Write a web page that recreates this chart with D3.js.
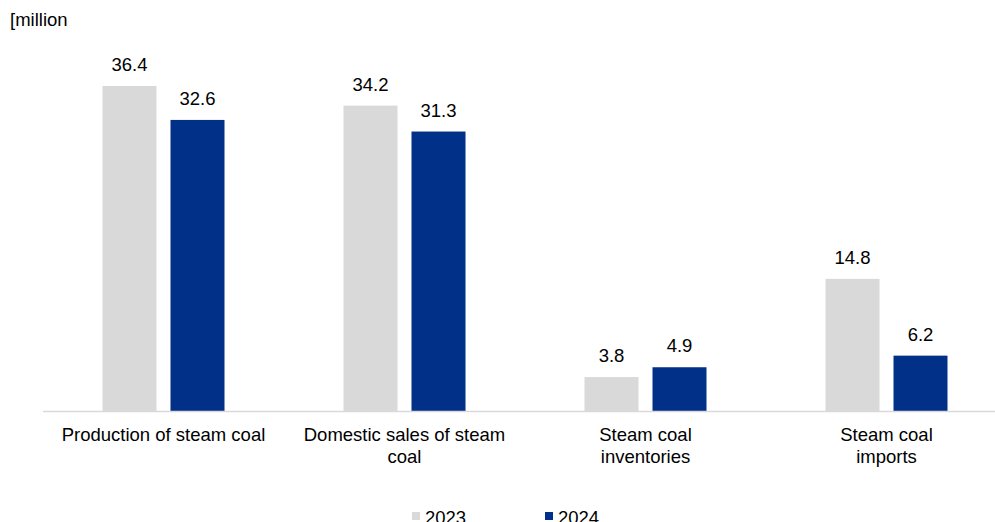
<!DOCTYPE html>
<html>
<head>
<meta charset="utf-8">
<script src="https://cdn.jsdelivr.net/npm/d3@7/dist/d3.min.js"></script>
<style>
  html, body { margin: 0; padding: 0; background: #fff; overflow: hidden; }
  svg { display: block; font-family: "Liberation Sans", Arial, sans-serif; }
</style>
</head>
<body>
<svg id="chart" width="995" height="522"></svg>
<script>
// Steam coal balance, million tonnes
const categories = [
  ["Production of steam coal"],
  ["Domestic sales of steam", "coal"],
  ["Steam coal", "inventories"],
  ["Steam coal", "imports"]
];
const seriesNames = ["2023", "2024"];
const values2023 = [36.4, 34.2, 3.8, 14.8];
const values2024 = [32.6, 31.3, 4.9, 6.2];
const unitLabel = "[million";

const colors = ["#d9d9d9", "#003087"];
const fontSize = 18.5;
const svg = d3.select("#chart");

const baseY = 411;
const x0 = d3.scaleBand()
  .domain(d3.range(categories.length))
  .range([43, 1007]);

// two bars per group, 54px wide with a 14px gap
const barW = 54, barGap = 14;
const groupW = barW * 2 + barGap;
const x1 = d3.scaleBand()
  .domain(seriesNames)
  .range([0, groupW])
  .paddingInner(barGap / (barW + barGap))
  .paddingOuter(0);

const y = d3.scaleLinear().domain([0, 36.4]).range([baseY, 86]);

const series = [values2023, values2024];

// bars with value labels
series.forEach((vals, si) => {
  const g = svg.append("g");
  vals.forEach((v, ci) => {
    const bx = x0(ci) + x0.bandwidth() / 2 - groupW / 2 + x1(seriesNames[si]);
    g.append("rect")
      .attr("x", bx)
      .attr("y", y(v))
      .attr("width", x1.bandwidth())
      .attr("height", baseY - y(v))
      .attr("fill", colors[si]);
    g.append("text")
      .attr("x", bx + x1.bandwidth() / 2)
      .attr("y", y(v) - 15)
      .attr("text-anchor", "middle")
      .attr("font-size", fontSize)
      .attr("fill", "#000")
      .text(d3.format(".1f")(v));
  });
});

// baseline
svg.append("line")
  .attr("x1", 43).attr("x2", 995)
  .attr("y1", baseY + 0.5).attr("y2", baseY + 0.5)
  .attr("stroke", "#d9d9d9")
  .attr("stroke-width", 1.5);

// category labels
categories.forEach((lines, ci) => {
  const cx = x0(ci) + x0.bandwidth() / 2;
  const t = svg.append("text")
    .attr("x", cx)
    .attr("y", 441)
    .attr("text-anchor", "middle")
    .attr("font-size", fontSize)
    .attr("fill", "#000");
  lines.forEach((ln, li) => {
    t.append("tspan")
      .attr("x", cx)
      .attr("dy", li === 0 ? 0 : 22)
      .text(ln);
  });
});

// unit label
svg.append("text")
  .attr("x", 10).attr("y", 26)
  .attr("font-size", fontSize)
  .attr("fill", "#000")
  .text(unitLabel);

// legend along the bottom edge
const legendX = [412, 545];
seriesNames.forEach((name, i) => {
  svg.append("rect")
    .attr("x", legendX[i]).attr("y", 512)
    .attr("width", 8).attr("height", 8)
    .attr("fill", colors[i]);
  svg.append("text")
    .attr("x", legendX[i] + 13).attr("y", 524)
    .attr("font-size", fontSize)
    .attr("fill", "#000")
    .text(name);
});
</script>
</body>
</html>
